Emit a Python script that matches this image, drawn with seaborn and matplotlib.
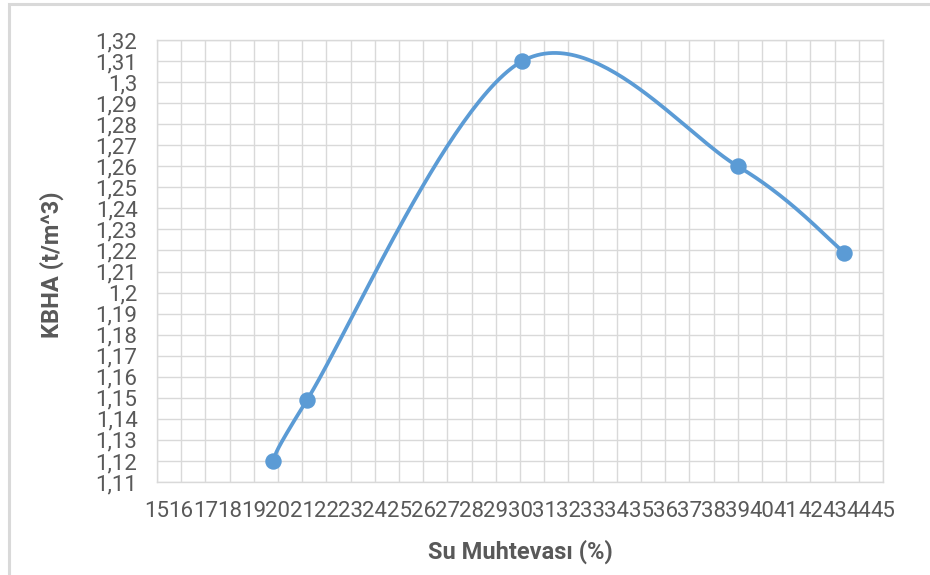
import numpy as np
import pandas as pd
import matplotlib
matplotlib.use("Agg")
import matplotlib.pyplot as plt
import seaborn as sns
from matplotlib.ticker import FuncFormatter
from matplotlib.patches import Rectangle

# Data
su_muhtevasi = [19.8, 21.2, 30.1, 39.0, 43.4]
kbha = [1.120, 1.149, 1.310, 1.260, 1.219]
x_ticks = list(range(15, 46))
y_ticks = [round(1.11 + 0.01 * i, 2) for i in range(22)]

sns.set_theme(style="white")
plt.rcParams["font.family"] = ["Roboto", "DejaVu Sans"]

W, H = 930, 575
fig = plt.figure(figsize=(W / 100, H / 100), dpi=100)
ax = fig.add_axes([157 / W, 1 - 482 / H, (883 - 157) / W, (482 - 40) / H])

# outer chart frame
fig.patches.append(Rectangle((9 / W, -0.1), 1.2, 1 - 4 / H + 0.1, transform=fig.transFigure,
                             fill=False, edgecolor="#d9d9d9", linewidth=2.2, zorder=0))

# Excel-like smoothed line (Catmull-Rom -> Bezier)
P = np.column_stack([su_muhtevasi, kbha])
ext = np.vstack([P[0], P, P[-1]])
curve = []
t = np.linspace(0, 1, 60)
for i in range(len(P) - 1):
    p0, p1, p2, p3 = ext[i], ext[i + 1], ext[i + 2], ext[i + 3]
    c1 = p1 + (p2 - p0) / 6
    c2 = p2 - (p3 - p1) / 6
    seg = ((1 - t) ** 3)[:, None] * p1 + (3 * (1 - t) ** 2 * t)[:, None] * c1 \
        + (3 * (1 - t) * t ** 2)[:, None] * c2 + (t ** 3)[:, None] * p2
    curve.append(seg if i == 0 else seg[1:])
curve = np.vstack(curve)
cdf = pd.DataFrame({"x": curve[:, 0], "y": curve[:, 1]})

blue = "#5B9BD5"
sns.lineplot(data=cdf, x="x", y="y", sort=False, estimator=None, color=blue,
             linewidth=2.7, ax=ax, zorder=3)
pdf = pd.DataFrame({"x": su_muhtevasi, "y": kbha})
sns.scatterplot(data=pdf, x="x", y="y", color=blue, s=140, edgecolor=blue,
                linewidth=0, ax=ax, zorder=4)

ax.set_xlim(15, 45)
ax.set_ylim(1.11, 1.32)
ax.set_xticks(x_ticks)
ax.set_yticks(y_ticks)
ax.xaxis.set_major_formatter(FuncFormatter(lambda v, p: f"{int(round(v))}"))
ax.yaxis.set_major_formatter(FuncFormatter(lambda v, p: f"{round(v, 2):g}".replace(".", ",")))

ax.grid(True, color="#d9d9d9", linewidth=1.0)
for s in ax.spines.values():
    s.set_color("#d9d9d9")
    s.set_linewidth(1.0)
ax.tick_params(axis="both", length=0, labelsize=16, colors="#595959")
ax.tick_params(axis="y", pad=14)
ax.tick_params(axis="x", pad=14)

ax.set_xlabel("")
ax.set_ylabel("")
fig.text(520 / W, 1 - 552 / H, "Su Muhtevası (%)", ha="center", va="center",
         fontsize=17, fontweight="bold", color="#595959")
fig.text(52 / W, 1 - 265 / H, "KBHA (t/m^3)", ha="center", va="center", rotation=90,
         fontsize=17, fontweight="bold", color="#595959")

fig.savefig("out.png", dpi=100)
